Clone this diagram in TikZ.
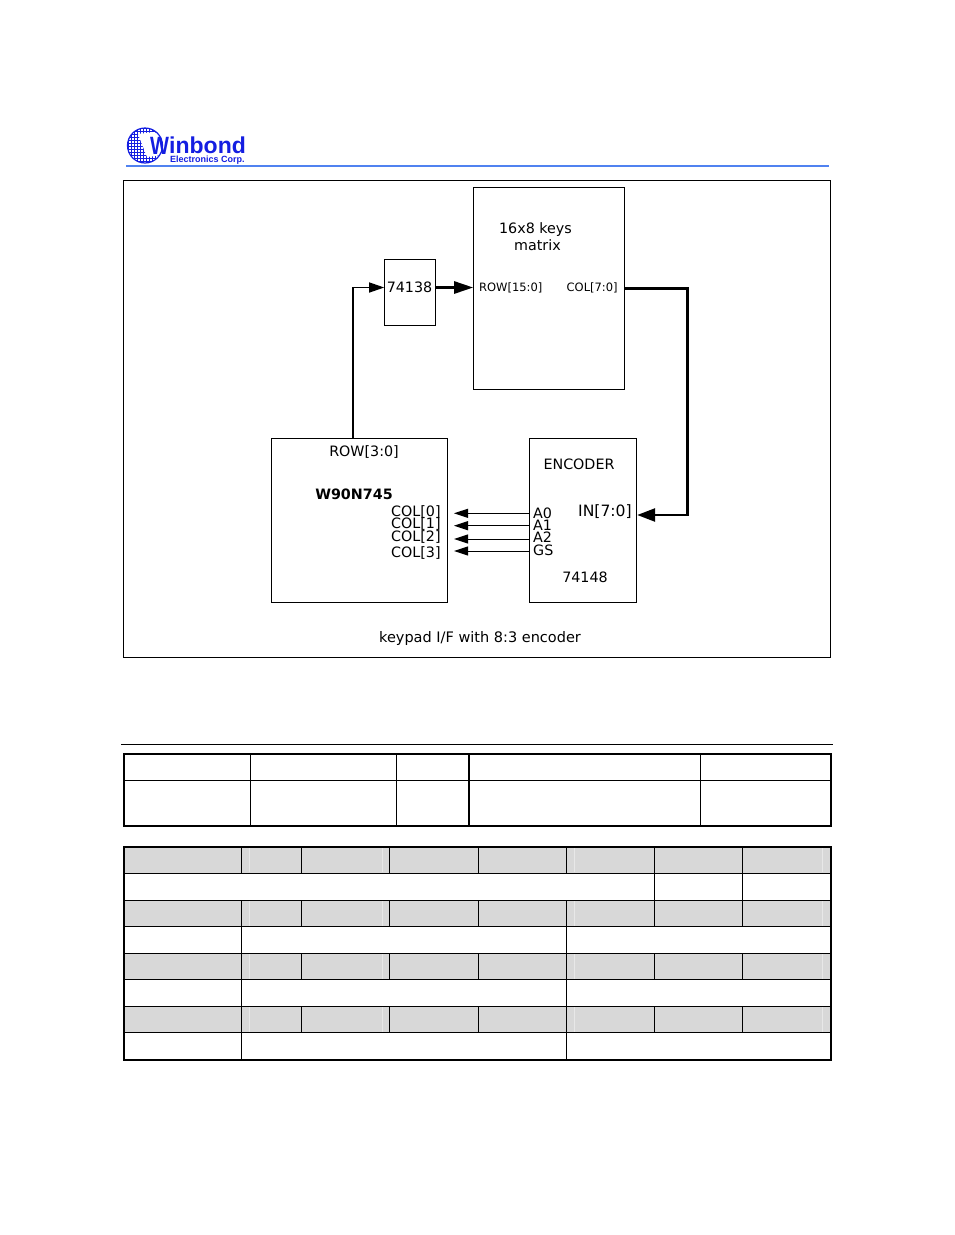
\documentclass[tikz,border=0pt]{standalone}
\usepackage{fontspec}
\setmainfont{DejaVu Sans}
\newfontfamily\logofont{Liberation Sans}
\usetikzlibrary{arrows.meta}
\definecolor{logoblue}{RGB}{20,30,225}
\definecolor{rulerblue}{RGB}{80,130,240}
\definecolor{cellgrey}{RGB}{216,216,216}
\tikzset{
    block/.style={draw,line width=1pt,inner sep=0pt,anchor=north west},
    label/.style={inner sep=0pt,font=\fontsize{14.3}{14.3}\selectfont},
    tiny/.style={inner sep=0pt,font=\fontsize{11.5}{11.5}\selectfont},
    thinarrow/.style={line width=1pt,-{Triangle[length=14pt,width=9pt]}},
    grid/.style={line width=0.9pt},
    outer/.style={line width=1.9pt},
}
\begin{document}
\begin{tikzpicture}[x=1pt,y=-1pt]
    \useasboundingbox (0,0) rectangle (954,1235);

    % logo
    \begin{scope}
        \clip (145,145.5) circle (17.5);
        \foreach \i in {0,...,11} {
            \draw[logoblue,line width=0.5pt] (127,128+3*\i) -- (163,128+3*\i);
            \draw[logoblue,line width=0.5pt] (128+3*\i,127) -- (128+3*\i,164);
        }
        \fill[white] (138,134) -- (154,132) -- (163,135) -- (163,155) -- (147,157) -- cycle;
    \end{scope}
    \draw[logoblue,line width=1.2pt] (145,145.5) circle (17.5);
    \node[inner sep=0pt,anchor=base west,text=logoblue,xscale=0.8,transform shape,font=\logofont\bfseries\fontsize{25}{25}\selectfont] (logoW) at (150,154.5) {W};
    \node[inner sep=0pt,anchor=base west,text=logoblue,font=\logofont\bfseries\fontsize{23}{23}\selectfont] (logoname) at (169,153.5) {inbond};
    \node[inner sep=0pt,anchor=base west,text=logoblue,font=\logofont\bfseries\fontsize{9}{9}\selectfont] (logosub) at (170,162.7) {Electronics Corp.};
    \fill[rulerblue] (126,165) rectangle (829,166.5);

    % diagram
    \draw[line width=0.9pt] (123.5,180.5) rectangle (830.5,657);
    \node[block,minimum width=151pt,minimum height=202pt] (matrix) at (473.2,187.2) {};
    \node[block,minimum width=51pt,minimum height=66pt] (dec) at (384.2,259.2) {};
    \node[block,minimum width=176pt,minimum height=164pt] (cpu) at (271.2,438.2) {};
    \node[block,minimum width=107pt,minimum height=164pt] (enc) at (529.2,438.2) {};

    \node[label] (keys) at (535.5,229.5) {16x8 keys};
    \node[label] (mat) at (537.5,245.5) {matrix};
    \node[label] (dectxt) at (409.5,287.5) {74138};
    \node[tiny,anchor=west] (rowin) at (479,287.5) {ROW[15:0]};
    \node[tiny,anchor=west] (colout) at (566.5,288) {COL[7:0]};
    \node[label] (rowout) at (364,452.5) {ROW[3:0]};
    \node[label,font=\bfseries\fontsize{14.3}{14.3}\selectfont] (cputxt) at (354,494) {W90N745};
    \node[label,anchor=west] (col0) at (391,512.5) {COL[0]};
    \node[label,anchor=west] (col1) at (391,524.5) {COL[1]};
    \node[label,anchor=west] (col2) at (391,537.5) {COL[2]};
    \node[label,anchor=west] (col3) at (391,553.5) {COL[3]};
    \node[label] (enctxt) at (579,464) {ENCODER};
    \node[label,anchor=west] (a0) at (533,513) {A0};
    \node[label,anchor=west] (a1) at (533,525) {A1};
    \node[label,anchor=west] (a2) at (533,537.5) {A2};
    \node[label,anchor=west] (gs) at (533,550) {GS};
    \node[label,anchor=west,font=\fontsize{15.6}{15.6}\selectfont] (inp) at (578,512) {IN[7:0]};
    \node[label] (enctype) at (585,577.5) {74148};
    \node[label,font=\fontsize{14.5}{14.5}\selectfont] (caption) at (480,638.5) {keypad I/F with 8:3 encoder};

    \coordinate (rowturn) at (353,287.5);
    \coordinate (colturn) at (687.5,288.5);
    \coordinate (inturn) at (687.5,515);
    \foreach \name/\ypos in {p0/513.3, p1/525.7, p2/539, p3/551} {
        \coordinate (\name) at (454,\ypos);
    }

    \draw[line width=1.4pt,-{Triangle[length=15pt,width=10pt]}] (cpu.north -| rowturn) |- (dec.west |- rowturn);
    \draw[line width=2.6pt,-{Triangle[length=19pt,width=12pt]}] (dec.east |- rowturn) -- (matrix.west |- rowturn);
    \draw[line width=2.6pt,-{Triangle[length=18pt,width=13pt]}] (matrix.east |- colturn) -- (colturn) -- (inturn) -- (enc.east |- inturn);
    \foreach \name in {p0,p1,p2,p3} {
        \draw[thinarrow] (enc.west |- \name) -- (\name);
    }

    % tables
    \draw[line width=0.9pt] (121,744.5) -- (833,744.5);

    \draw[grid] (124,780.5) -- (831,780.5);
    \foreach \xpos in {250.5,396,700} {
        \draw[grid] (\xpos,754) -- (\xpos,826);
    }
    \draw[outer] (469,754) -- (469,826);
    \draw[outer] (124,754) rectangle (831,826);

    \foreach \ypos in {846,900,953,1006} {
        \fill[cellgrey] (124,\ypos) rectangle (831,\ypos+27);
        \foreach \xpos in {249,382,574,822} {
            \draw[white!40!cellgrey,line width=0.7pt] (\xpos,\ypos+1) -- (\xpos,\ypos+26);
        }
        \foreach \xpos in {241.5,301.5,389,478.5,566,654,742} {
            \draw[grid] (\xpos,\ypos) -- (\xpos,\ypos+27);
        }
    }
    \foreach \ypos in {873,900,926,953,979,1006,1032} {
        \draw[grid] (124,\ypos) -- (831,\ypos);
    }
    \foreach \xpos in {654,742} {
        \draw[grid] (\xpos,873) -- (\xpos,900);
    }
    \foreach \ypos/\yend in {926/953,979/1006,1032/1060} {
        \draw[grid] (241.5,\ypos) -- (241.5,\yend);
        \draw[grid] (566,\ypos) -- (566,\yend);
    }
    \draw[outer] (124,847) rectangle (831,1060);
    \draw[outer] (124,846.5) -- (831,846.5);
\end{tikzpicture}
\end{document}
